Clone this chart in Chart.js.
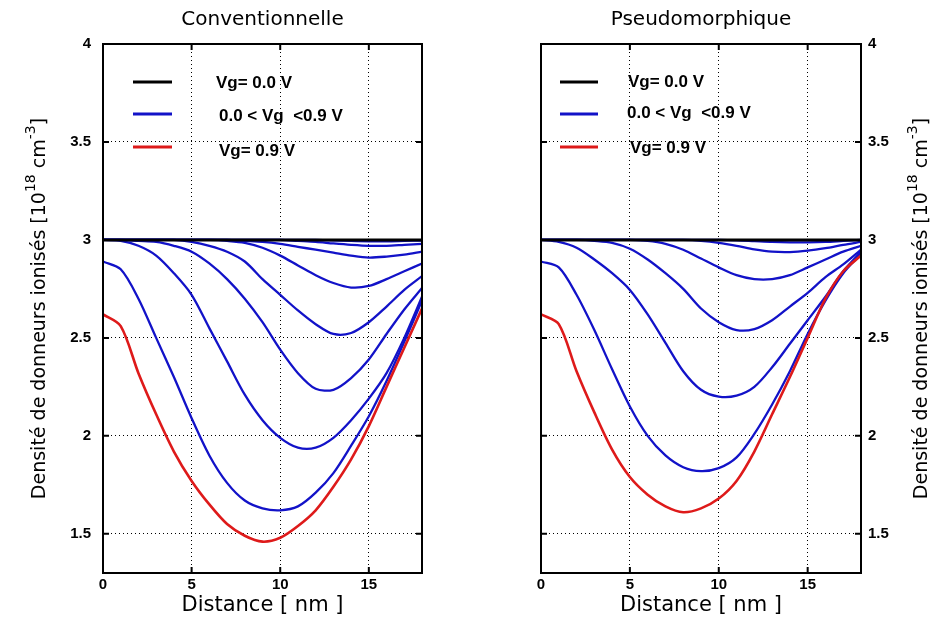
<!DOCTYPE html>
<html><head><meta charset="utf-8">
<script src="https://cdn.jsdelivr.net/npm/chart.js@4/dist/chart.umd.min.js"></script>
<style>
html,body{margin:0;padding:0;background:#fff;}
#wrap{position:relative;width:937px;height:621px;overflow:hidden;}
</style></head><body>
<div id="wrap">
<canvas id="c1" width="468" height="621" style="position:absolute;left:0;top:0"></canvas>
<canvas id="c2" width="469" height="621" style="position:absolute;left:468px;top:0"></canvas>
</div>
<script>
// ---------- data ----------
const distance = [0,1,2,3,4,5,6,7,8,9,10,11,12,13,14,15,16,17,18];
const xTicks = [0,5,10,15];
const yTicks = [1.5,2,2.5,3,3.5,4];
const panelTitles = ['Conventionnelle','Pseudomorphique'];
const legendLabels = ['Vg= 0.0 V','0.0 < Vg  <0.9 V','Vg= 0.9 V'];
const xTitle = 'Distance [ nm ]';
const yTitleParts = ['Densité de donneurs ionisés [10','18',' cm','-3',']'];

// Conventionnelle
const convVg0  = [3,3,3,3,3,3,3,3,3,3,3,3,3,3,3,3,3,3,3];
const convMid1 = [3,3,3,3,3,3,3,3,3,3,3,3,3,2.998,2.995,2.993,2.993,2.995,2.997];
const convMid2 = [3,3,3,3,3,3,3,3,3,3,3,2.995,2.99,2.982,2.975,2.97,2.97,2.975,2.98];
const convMid3 = [3,3,3,3,3,3,3,3,2.995,2.99,2.98,2.965,2.95,2.935,2.92,2.91,2.915,2.925,2.94];
const convMid4 = [3,3,3,3,3,3,3,2.995,2.985,2.96,2.92,2.87,2.82,2.78,2.757,2.765,2.80,2.84,2.88];
const convMid5 = [3,3,3,3,3,2.99,2.97,2.94,2.89,2.80,2.72,2.64,2.57,2.52,2.525,2.58,2.66,2.745,2.815];
const convMid6 = [3,3,2.995,2.99,2.97,2.94,2.88,2.80,2.70,2.58,2.44,2.32,2.24,2.235,2.295,2.39,2.52,2.645,2.755];
const convMid7 = [3,2.995,2.97,2.92,2.83,2.72,2.55,2.38,2.21,2.08,1.99,1.94,1.94,1.99,2.08,2.19,2.32,2.50,2.71];
const convMid8 = [2.89,2.85,2.70,2.50,2.30,2.09,1.90,1.76,1.67,1.63,1.62,1.64,1.71,1.81,1.95,2.10,2.28,2.48,2.69];
const convVg9  = [2.62,2.56,2.32,2.11,1.92,1.77,1.65,1.55,1.49,1.46,1.48,1.54,1.62,1.74,1.88,2.05,2.25,2.45,2.65];

// Pseudomorphique
const pseuVg0  = [3,3,3,3,3,3,3,3,3,3,3,3,3,3,3,3,3,3,3];
const pseuMid1 = [3,3,3,3,3,3,3,3,3,3,3,2.998,2.994,2.99,2.988,2.988,2.99,2.995,3];
const pseuMid2 = [3,3,3,3,3,3,3,3,3,2.995,2.985,2.97,2.952,2.94,2.938,2.945,2.958,2.975,2.99];
const pseuMid3 = [3,3,3,3,3,3,2.995,2.98,2.95,2.905,2.86,2.82,2.80,2.80,2.82,2.86,2.90,2.94,2.97];
const pseuMid4 = [3,3,3,2.995,2.985,2.955,2.90,2.83,2.75,2.65,2.58,2.54,2.545,2.59,2.66,2.73,2.81,2.875,2.95];
const pseuMid5 = [3,2.99,2.96,2.90,2.83,2.745,2.62,2.475,2.33,2.235,2.20,2.205,2.25,2.35,2.47,2.59,2.71,2.84,2.94];
const pseuMid6 = [2.89,2.86,2.72,2.54,2.34,2.15,2.00,1.90,1.84,1.82,1.835,1.89,2.01,2.16,2.33,2.52,2.69,2.83,2.93];
const pseuVg9  = [2.62,2.57,2.33,2.12,1.93,1.79,1.70,1.64,1.61,1.63,1.68,1.77,1.92,2.11,2.30,2.50,2.70,2.84,2.92];

// ---------- styles ----------
const BLACK = '#000000', BLUE = '#1212c8', RED = '#de1a1a';
const legendColors = [BLACK, BLUE, RED];

function line(vals, color, w){
  return { data: vals.map((v,i)=>({x:distance[i], y:v})), borderColor: color, borderWidth: w,
           pointRadius: 0, fill: false, tension: 0.3 };
}
function datasets(vg0, mids, vg9){
  const ds = [line(vg0, BLACK, 3), line(vg9, RED, 2.6)];
  mids.forEach(m => ds.push(line(m, BLUE, 2.3)));
  return ds;
}

const decor = {
  id: 'decor',
  afterDatasetsDraw(chart, args, o){
    const ctx = chart.ctx, a = chart.chartArea;
    const xs = chart.scales.x, ys = chart.scales.y;
    ctx.save();
    // frame
    ctx.strokeStyle = '#000'; ctx.lineWidth = 2;
    ctx.strokeRect(a.left, a.top, a.right - a.left, a.bottom - a.top);
    // inner tick marks
    ctx.lineWidth = 2;
    ctx.beginPath();
    xTicks.forEach(v => { const p = xs.getPixelForValue(v);
      ctx.moveTo(p, a.top); ctx.lineTo(p, a.top + 6); ctx.moveTo(p, a.bottom); ctx.lineTo(p, a.bottom - 6); });
    yTicks.forEach(v => { const p = ys.getPixelForValue(v);
      ctx.moveTo(a.left, p); ctx.lineTo(a.left + 6, p); ctx.moveTo(a.right, p); ctx.lineTo(a.right - 6, p); });
    ctx.stroke();
    // panel title
    ctx.fillStyle = '#000';
    ctx.font = '20px "DejaVu Sans"';
    ctx.textAlign = 'center'; ctx.textBaseline = 'middle';
    ctx.fillText(o.title, (a.left + a.right) / 2, o.titleY);
    // legend
    ctx.font = 'bold 17px "Liberation Sans"';
    ctx.textAlign = 'left';
    legendLabels.forEach((lab, i) => {
      ctx.strokeStyle = legendColors[i]; ctx.lineWidth = 3;
      ctx.beginPath();
      ctx.moveTo(a.left + o.lx0, a.top + o.ly[i]); ctx.lineTo(a.left + o.lx1, a.top + o.ly[i]);
      ctx.stroke();
      ctx.fillText(lab, a.left + o.tx[i], a.top + o.ty[i]);
    });
    // y axis title with superscripts
    const fMain = '19px "DejaVu Sans"', fSup = '14px "DejaVu Sans"';
    let W = 0;
    const widths = yTitleParts.map((t, i) => { ctx.font = (i % 2) ? fSup : fMain; const w = ctx.measureText(t).width; W += w; return w; });
    const cy = (a.top + a.bottom) / 2;
    ctx.translate(o.yTitleX, cy);
    ctx.rotate(-Math.PI / 2);
    ctx.textBaseline = 'alphabetic';
    let x = -W / 2;
    yTitleParts.forEach((t, i) => {
      ctx.font = (i % 2) ? fSup : fMain;
      ctx.fillText(t, x, (i % 2) ? -10 : 0);
      x += widths[i];
    });
    ctx.restore();
  }
};

function makeChart(id, ds, side, opts){
  const isLeft = side === 'left';
  return new Chart(document.getElementById(id), {
    type: 'line',
    data: { datasets: ds },
    plugins: [decor],
    options: {
      responsive: false, animation: false, devicePixelRatio: 1,
      layout: { padding: isLeft ? {left:0, right:46, top:44, bottom:0} : {left:73, right:0, top:44, bottom:0} },
      plugins: { legend: {display:false}, tooltip: {enabled:false}, title: {display:false}, decor: opts },
      scales: {
        x: { type:'linear', min:0, max:18, position:'bottom',
             afterBuildTicks: s => { s.ticks = xTicks.map(v => ({value:v})); },
             afterFit: s => { s.height = 48; },
             ticks: { color:'#000', font:{family:'Liberation Sans', size:15, weight:'bold'}, padding:3, callback: v => String(v) },
             grid: { color:'#000', lineWidth:1, drawTicks:false },
             border: { display:false, dash:[1,3] },
             title: { display:true, text: xTitle, color:'#000', font:{family:'DejaVu Sans', size:21}, padding:{top:0, bottom:3} } },
        y: { type:'linear', min:1.3, max:4, position: side,
             afterBuildTicks: s => { s.ticks = yTicks.map(v => ({value:v})); },
             afterFit: s => { s.width = isLeft ? 103 : 76; },
             ticks: { color:'#000', font:{family:'Liberation Sans', size:15, weight:'bold'}, padding: isLeft ? 12 : 7, callback: v => String(v) },
             grid: { color:'#000', lineWidth:1, drawTicks:false },
             border: { display:false, dash:[1,3] } }
      }
    }
  });
}

makeChart('c1', datasets(convVg0, [convMid1,convMid2,convMid3,convMid4,convMid5,convMid6,convMid7,convMid8], convVg9), 'left',
  { title: panelTitles[0], titleY: 20, lx0: 30, lx1: 69, ly: [38, 70, 103], tx: [113, 116, 116], ty: [39, 72, 107], yTitleX: 45 });
makeChart('c2', datasets(pseuVg0, [pseuMid1,pseuMid2,pseuMid3,pseuMid4,pseuMid5,pseuMid6], pseuVg9), 'right',
  { title: panelTitles[1], titleY: 20, lx0: 19, lx1: 57, ly: [38, 70, 103], tx: [87, 86, 89], ty: [38, 69, 104], yTitleX: 459 });
</script>
</body></html>
